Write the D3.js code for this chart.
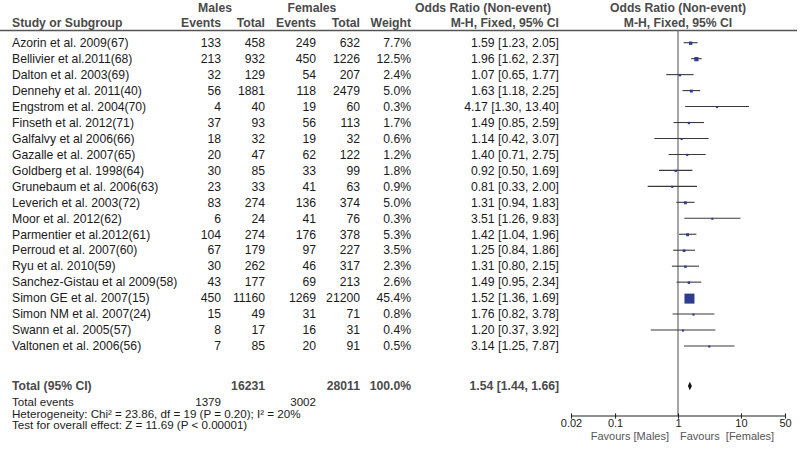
<!DOCTYPE html>
<html>
<head>
<meta charset="utf-8">
<script src="https://cdn.jsdelivr.net/npm/d3@7"></script>
<style>
  body { margin: 0; background: #fff; }
  svg { display: block; font-family: "Liberation Sans", Arial, Helvetica, sans-serif; }
</style>
</head>
<body>
<svg id="chart" width="800" height="452"></svg>
<script>
const studies = [
  "Azorin et al. 2009(67)", "Bellivier et al.2011(68)", "Dalton et al. 2003(69)",
  "Dennehy et al. 2011(40)", "Engstrom et al. 2004(70)", "Finseth et al. 2012(71)",
  "Galfalvy et al 2006(66)", "Gazalle et al. 2007(65)", "Goldberg et al. 1998(64)",
  "Grunebaum et al. 2006(63)", "Leverich et al. 2003(72)", "Moor et al. 2012(62)",
  "Parmentier et al.2012(61)", "Perroud et al. 2007(60)", "Ryu et al. 2010(59)",
  "Sanchez-Gistau et al 2009(58)", "Simon GE et al. 2007(15)", "Simon NM et al. 2007(24)",
  "Swann et al. 2005(57)", "Valtonen et al. 2006(56)"
];
const malesEvents   = [133, 213, 32, 56, 4, 37, 18, 20, 30, 23, 83, 6, 104, 67, 30, 43, 450, 15, 8, 7];
const malesTotal    = [458, 932, 129, 1881, 40, 93, 32, 47, 85, 33, 274, 24, 274, 179, 262, 177, 11160, 49, 17, 85];
const femalesEvents = [249, 450, 54, 118, 19, 56, 19, 62, 33, 41, 136, 41, 176, 97, 46, 69, 1269, 31, 16, 20];
const femalesTotal  = [632, 1226, 207, 2479, 60, 113, 32, 122, 99, 63, 374, 76, 378, 227, 317, 213, 21200, 71, 31, 91];
const weights       = [7.7, 12.5, 2.4, 5.0, 0.3, 1.7, 0.6, 1.2, 1.8, 0.9, 5.0, 0.3, 5.3, 3.5, 2.3, 2.6, 45.4, 0.8, 0.4, 0.5];
const oddsRatio     = [1.59, 1.96, 1.07, 1.63, 4.17, 1.49, 1.14, 1.40, 0.92, 0.81, 1.31, 3.51, 1.42, 1.25, 1.31, 1.49, 1.52, 1.76, 1.20, 3.14];
const ciLow         = [1.23, 1.62, 0.65, 1.18, 1.30, 0.85, 0.42, 0.71, 0.50, 0.33, 0.94, 1.26, 1.04, 0.84, 0.80, 0.95, 1.36, 0.82, 0.37, 1.25];
const ciHigh        = [2.05, 2.37, 1.77, 2.25, 13.40, 2.59, 3.07, 2.75, 1.69, 2.00, 1.83, 9.83, 1.96, 1.86, 2.15, 2.34, 1.69, 3.78, 3.92, 7.87];

const totalMales = 16231, totalFemales = 28011, totalWeight = 100.0;
const totalEventsMales = 1379, totalEventsFemales = 3002;
const pooled = { or: 1.54, lo: 1.44, hi: 1.66 };
const axisTicks = [0.02, 0.1, 1, 10, 50];
const tickLabels = ["0.02", "0.1", "1", "10", "50"];
const heterogeneityText = "Heterogeneity: Chi\u00B2 = 23.86, df = 19 (P = 0.20); I\u00B2 = 20%";
const overallText = "Test for overall effect: Z = 11.69 (P < 0.00001)";

const svg = d3.select("#chart");
const rows = studies.map((s, i) => ({
  study: s, me: malesEvents[i], mt: malesTotal[i], fe: femalesEvents[i], ft: femalesTotal[i],
  w: weights[i], or: oddsRatio[i], lo: ciLow[i], hi: ciHigh[i]
}));

const y = d3.scalePoint().domain(studies).range([42.7, 346]);
const x = d3.scaleLog().domain([0.02, 50]).range([571, 785]);
const sq = d3.scaleLinear().domain([0, d3.max(weights)]).range([2, 10]);

const col = { study: 12, me: 221, mt: 265, fe: 316, ft: 360, w: 411, or: 559 };
const txt = "#1a1a1a", hdr = "#4a4a4a";
const fs = 12.2;

// Header
function htext(t, xp, yp, anchor) {
  svg.append("text").attr("x", xp).attr("y", yp).attr("dy", "0.35em")
    .attr("text-anchor", anchor).attr("font-size", fs).attr("font-weight", "bold")
    .attr("fill", hdr).text(t);
}
htext("Males", 215, 7.5, "middle");
htext("Females", 312, 7.5, "middle");
htext("Odds Ratio (Non-event)", 483, 7.5, "middle");
htext("Odds Ratio (Non-event)", 678, 7.5, "middle");
htext("Study or Subgroup", col.study, 23, "start");
htext("Events", col.me, 23, "end");
htext("Total", col.mt, 23, "end");
htext("Events", col.fe, 23, "end");
htext("Total", col.ft, 23, "end");
htext("Weight", col.w, 23, "end");
htext("M-H, Fixed, 95% CI", col.or, 23, "end");
htext("M-H, Fixed, 95% CI", 678, 23, "middle");

svg.append("line").attr("x1", 0).attr("x2", 797).attr("y1", 30.5).attr("y2", 30.5)
  .attr("stroke", "#555").attr("stroke-width", 1.3);

// Rows text
const g = svg.append("g").attr("font-size", fs).attr("fill", txt);
const fmt2 = d3.format(".2f"), fmt1 = d3.format(".1f");
const cells = [
  { k: "study", f: d => d.study, a: "start" },
  { k: "me", f: d => d.me, a: "end" },
  { k: "mt", f: d => d.mt, a: "end" },
  { k: "fe", f: d => d.fe, a: "end" },
  { k: "ft", f: d => d.ft, a: "end" },
  { k: "w", f: d => fmt1(d.w) + "%", a: "end" },
  { k: "or", f: d => `${fmt2(d.or)} [${fmt2(d.lo)}, ${fmt2(d.hi)}]`, a: "end" }
];
cells.forEach(c => {
  g.selectAll(null).data(rows).join("text")
    .attr("x", col[c.k]).attr("y", d => y(d.study)).attr("dy", "0.35em")
    .attr("text-anchor", c.a).text(c.f);
});

// Total row
const totalY = 386;
htext("Total (95% CI)", col.study, totalY, "start");
htext(totalMales, col.mt, totalY, "end");
htext(totalFemales, col.ft, totalY, "end");
htext(fmt1(totalWeight) + "%", col.w, totalY, "end");
htext(`${fmt2(pooled.or)} [${fmt2(pooled.lo)}, ${fmt2(pooled.hi)}]`, col.or, totalY, "end");

// Footer
const ft = svg.append("g").attr("font-size", 11.6).attr("fill", txt);
ft.append("text").attr("x", col.study).attr("y", 402).attr("dy", "0.35em").text("Total events");
ft.append("text").attr("x", col.me).attr("y", 402).attr("dy", "0.35em").attr("text-anchor", "end").text(totalEventsMales);
ft.append("text").attr("x", col.fe).attr("y", 402).attr("dy", "0.35em").attr("text-anchor", "end").text(totalEventsFemales);
ft.append("text").attr("x", col.study).attr("y", 413.7).attr("dy", "0.35em").text(heterogeneityText);
ft.append("text").attr("x", col.study).attr("y", 425.3).attr("dy", "0.35em").text(overallText);

// Plot
const axisY = 416;
svg.append("line").attr("x1", x(1)).attr("x2", x(1)).attr("y1", 30.5).attr("y2", axisY)
  .attr("stroke", "#6a6a6a").attr("stroke-width", 1.2);

const plot = svg.append("g");
plot.selectAll(".ci").data(rows).join("line")
  .attr("x1", d => x(d.lo)).attr("x2", d => x(d.hi))
  .attr("y1", d => y(d.study)).attr("y2", d => y(d.study))
  .attr("stroke", "#3a3a3a").attr("stroke-width", 1.1);
plot.selectAll(".sq").data(rows).join("rect")
  .attr("x", d => x(d.or) - sq(d.w) / 2).attr("y", d => y(d.study) - sq(d.w) / 2 + 0.5)
  .attr("width", d => sq(d.w)).attr("height", d => sq(d.w))
  .attr("fill", "#2e3b8f");

// Diamond
const dh = 4.2;
plot.append("path")
  .attr("d", `M${x(pooled.lo)},${totalY} L${x(pooled.or)},${totalY - dh} L${x(pooled.hi)},${totalY} L${x(pooled.or)},${totalY + dh} Z`)
  .attr("fill", "#111");

// Axis
const axis = d3.axisBottom(x).tickValues(axisTicks).tickFormat((d, i) => tickLabels[i]).tickSize(0).tickPadding(3);
const ag = svg.append("g").attr("transform", `translate(0,${axisY})`).call(axis);
ag.select(".domain").remove();
ag.append("line").attr("x1", x(0.02)).attr("x2", x(50)).attr("stroke", "#222").attr("stroke-width", 1.1);
ag.selectAll(".tick line").attr("y1", -2.6).attr("y2", 2.6).attr("stroke", "#222").attr("stroke-width", 1.1);
ag.selectAll(".tick text").attr("font-size", 11).attr("fill", "#222")
  .attr("y", 10.5).attr("dy", 0)
  .attr("font-family", "'Liberation Sans', Arial, sans-serif");

svg.append("text").attr("x", 669).attr("y", 439.5).attr("text-anchor", "end")
  .attr("font-size", 11).attr("fill", "#555").text("Favours [Males]");
svg.append("text").attr("x", 680).attr("y", 439.5).attr("text-anchor", "start")
  .attr("font-size", 11).attr("fill", "#555").attr("xml:space", "preserve").style("white-space", "pre")
  .text("Favours  [Females]");
</script>
</body>
</html>
